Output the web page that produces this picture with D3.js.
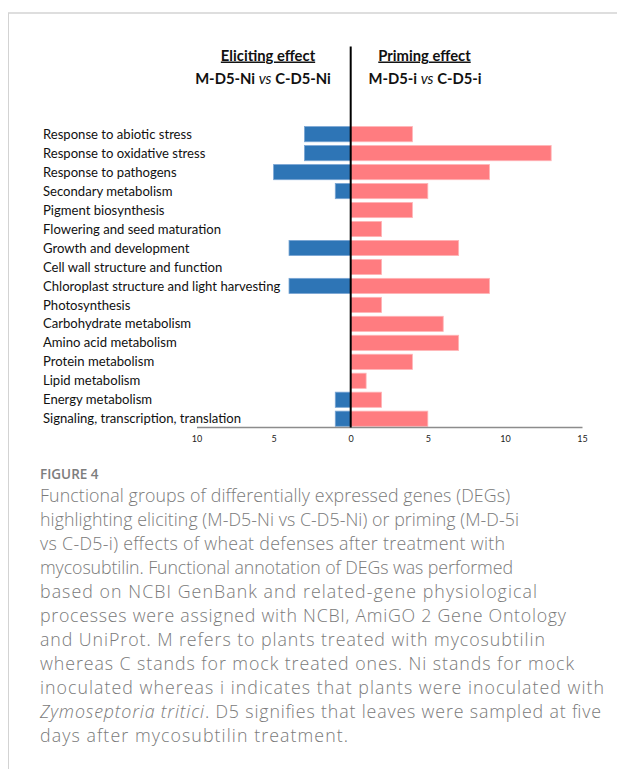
<!DOCTYPE html>
<html>
<head>
<meta charset="utf-8">
<script src="https://cdn.jsdelivr.net/npm/d3@7/dist/d3.min.js"></script>
<style>
  html, body { margin: 0; padding: 0; background: #fff; }
  svg { display: block; }
</style>
</head>
<body>
<svg id="chart" width="617" height="769"></svg>
<script>
const categories = [
  "Response to abiotic stress",
  "Response to oxidative stress",
  "Response to pathogens",
  "Secondary metabolism",
  "Pigment biosynthesis",
  "Flowering and seed maturation",
  "Growth and development",
  "Cell wall structure and function",
  "Chloroplast structure and light harvesting",
  "Photosynthesis",
  "Carbohydrate metabolism",
  "Amino acid metabolism",
  "Protein metabolism",
  "Lipid metabolism",
  "Energy metabolism",
  "Signaling, transcription, translation"
];
// Eliciting effect (M-D5-Ni vs C-D5-Ni), drawn to the left
const eliciting = [3, 3, 5, 1, 0, 0, 4, 0, 4, 0, 0, 0, 0, 0, 1, 1];
// Priming effect (M-D5-i vs C-D5-i), drawn to the right
const priming = [4, 13, 9, 5, 4, 2, 7, 2, 9, 2, 6, 7, 4, 1, 2, 5];
const tickValues = [-10, -5, 0, 5, 10, 15];
const tickLabels = ["10", "5", "0", "5", "10", "15"];

const captionTitle = "FIGURE 4";
const captionLines = [
  "Functional groups of differentially expressed genes (DEGs)",
  "highlighting eliciting (M-D5-Ni vs C-D5-Ni) or priming (M-D-5i",
  "vs C-D5-i) effects of wheat defenses after treatment with",
  "mycosubtilin. Functional annotation of DEGs was performed",
  "based on NCBI GenBank and related-gene physiological",
  "processes were assigned with NCBI, AmiGO 2 Gene Ontology",
  "and UniProt. M refers to plants treated with mycosubtilin",
  "whereas C stands for mock treated ones. Ni stands for mock",
  "inoculated whereas i indicates that plants were inoculated with",
  "|Zymoseptoria tritici|. D5 signifies that leaves were sampled at five",
  "days after mycosubtilin treatment."
];
// approximate right edge of each caption line in the reference
const captionLineEnds = [510, 519, 505, 513, 537, 566, 545, 574, 604, 601, 348];

const svg = d3.select("#chart");

// frame
svg.append("line").attr("x1", 8).attr("x2", 617).attr("y1", 13).attr("y2", 13)
  .attr("stroke", "#d3d3d3").attr("stroke-width", 1.5);
svg.append("line").attr("x1", 8.5).attr("x2", 8.5).attr("y1", 13).attr("y2", 769)
  .attr("stroke", "#d3d3d3").attr("stroke-width", 1);

const x = d3.scaleLinear().domain([-10, 15]).range([196.5, 582]);
const y = d3.scaleBand().domain(categories).range([124.7, 428.2])
  .paddingInner(0.2).paddingOuter(0.1);

const labelFont = "Lato, 'Noto Sans', sans-serif";

// bars
const g = svg.append("g");
g.selectAll("rect.neg").data(categories.filter((c, i) => eliciting[i] > 0))
  .join("rect").attr("class", "neg")
  .attr("x", c => x(-eliciting[categories.indexOf(c)]))
  .attr("y", c => y(c))
  .attr("width", c => x(0) - x(-eliciting[categories.indexOf(c)]))
  .attr("height", y.bandwidth())
  .attr("fill", "#2E75B6")
  .attr("stroke", "#7aa6d4").attr("stroke-width", 0.8);

g.selectAll("rect.pos").data(categories.filter((c, i) => priming[i] > 0))
  .join("rect").attr("class", "pos")
  .attr("x", x(0))
  .attr("y", c => y(c))
  .attr("width", c => x(priming[categories.indexOf(c)]) - x(0))
  .attr("height", y.bandwidth())
  .attr("fill", "#FF7C80")
  .attr("stroke", "#ffb4b6").attr("stroke-width", 0.8);

// category labels
svg.append("g").selectAll("text").data(categories).join("text")
  .attr("x", 43)
  .attr("y", c => y(c) + y.bandwidth() / 2 + 4.6)
  .attr("font-family", labelFont)
  .attr("font-size", 13.1)
  .attr("fill", "#111")
  .text(c => c);

// x axis
const axis = d3.axisBottom(x).tickValues(tickValues)
  .tickFormat((d, i) => tickLabels[i]).tickSize(0).tickPadding(9);
const ax = svg.append("g").attr("transform", "translate(0,427)").call(axis);
ax.select(".domain").attr("stroke", "#8c8c8c").attr("stroke-width", 1.6);
ax.selectAll("text").attr("font-family", labelFont).attr("font-size", 9).attr("fill", "#222");

// center line
svg.append("line").attr("x1", x(0)).attr("x2", x(0)).attr("y1", 46.5).attr("y2", 427.5)
  .attr("stroke", "#000").attr("stroke-width", 2);

// headers
const hdrFont = "Lato, 'Noto Sans', sans-serif";
function header(cx, cx2, title, left, right) {
  svg.append("text").attr("x", cx).attr("y", 60.5).attr("text-anchor", "middle")
    .attr("font-family", hdrFont).attr("font-weight", "bold").attr("font-size", 14.8)
    .attr("text-decoration", "underline").attr("fill", "#111").text(title);
  const t = svg.append("text").attr("x", cx2).attr("y", 84).attr("text-anchor", "middle")
    .attr("font-family", hdrFont).attr("font-weight", "bold").attr("font-size", 14.8).attr("fill", "#111");
  t.append("tspan").text(left + " ");
  t.append("tspan").attr("font-style", "italic").attr("font-weight", "normal").text("vs");
  t.append("tspan").text(" " + right);
}
header(268, 263, "Eliciting effect", "M-D5-Ni", "C-D5-Ni");
header(424.5, 425, "Priming effect", "M-D5-i", "C-D5-i");

// caption
const capFont = "'Open Sans', Lato, sans-serif";
svg.append("text").attr("x", 40).attr("y", 478.5)
  .attr("font-family", capFont).attr("font-size", 13.5).attr("font-weight", 600)
  .attr("fill", "#7d7d7d").text(captionTitle);

const cap = svg.append("g");
captionLines.forEach((line, i) => {
  const t = cap.append("text").attr("x", 40).attr("y", 502 + i * 24)
    .attr("font-family", capFont).attr("font-size", 17.8).attr("font-weight", 300)
    .attr("fill", "#7a7a7a")
    .attr("textLength", captionLineEnds[i] - 40)
    .attr("lengthAdjust", "spacing");
  const parts = line.split("|");
  parts.forEach((p, j) => {
    if (!p) return;
    const s = t.append("tspan").text(p);
    if (j % 2 === 1) s.attr("font-style", "italic");
  });
});
</script>
</body>
</html>
